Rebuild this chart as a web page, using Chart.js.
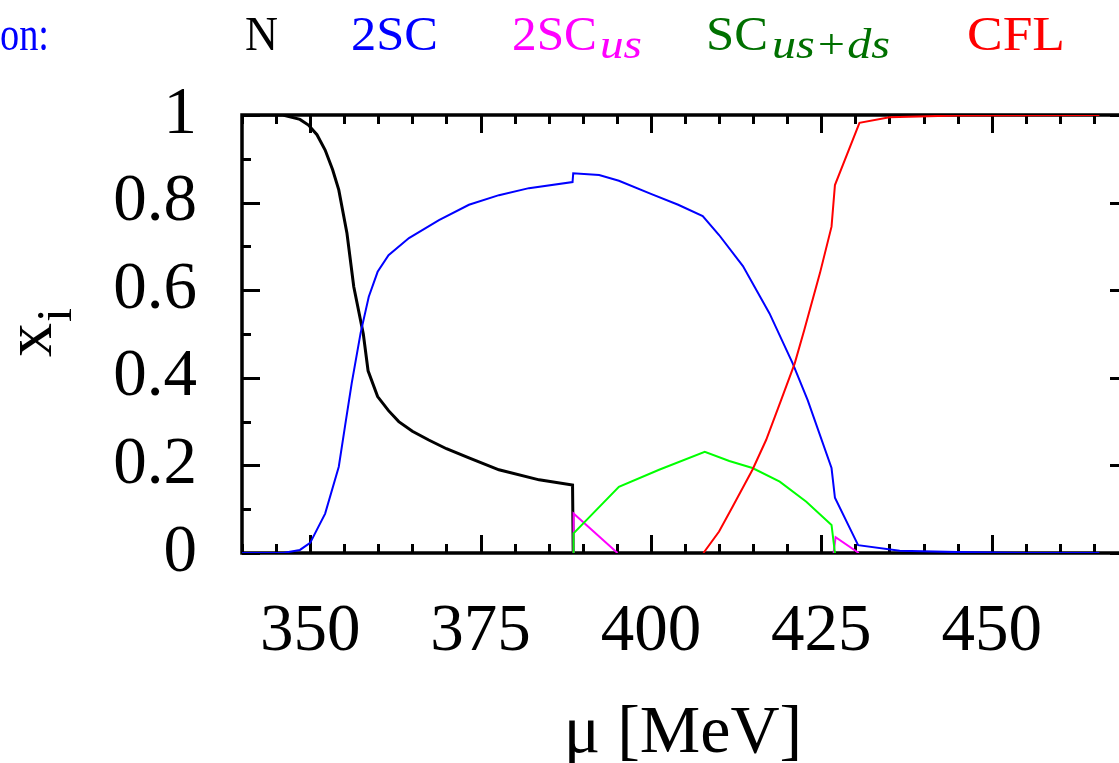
<!DOCTYPE html>
<html>
<head>
<meta charset="utf-8">
<script src="https://cdn.jsdelivr.net/npm/chart.js@4/dist/chart.umd.min.js"></script>
<style>
  html, body { margin: 0; padding: 0; background: #fff; overflow: hidden; }
  #wrap { position: relative; width: 1140px; height: 763px; }
</style>
</head>
<body>
<div id="wrap"><canvas id="fractionChart"></canvas></div>
<script>
// chemical potential mu [MeV] and volume fraction x_i for each phase
var muN   = [340, 346, 348.5, 349.75, 351, 352.2, 353.3, 354.2, 355.4, 356.4, 357.8, 358.5, 359.9, 361.5, 363, 365, 367.4, 370, 373.3, 377.7, 383.6, 388.5, 388.6];
var xN    = [1, 1, 0.99, 0.977, 0.955, 0.92, 0.875, 0.829, 0.73, 0.608, 0.50, 0.416, 0.357, 0.325, 0.30, 0.278, 0.258, 0.238, 0.217, 0.19, 0.167, 0.155, 0];

var mu2SC = [340, 346, 348.5, 350, 352.2, 354.2, 355.1, 356.1, 357.4, 358.6, 359.9, 361.5, 364.5, 368.9, 373.3, 377.7, 382.1, 388.5, 388.6, 392.4, 395.3, 400, 404, 407.6, 410, 413.5, 417.4, 420.8, 423, 426.5, 427, 430.4, 436.5, 445, 455, 465.8];
var x2SC  = [0, 0, 0.007, 0.023, 0.09, 0.197, 0.288, 0.388, 0.502, 0.585, 0.642, 0.68, 0.719, 0.76, 0.795, 0.817, 0.833, 0.847, 0.867, 0.863, 0.85, 0.82, 0.795, 0.769, 0.726, 0.655, 0.547, 0.433, 0.349, 0.194, 0.126, 0.018, 0.005, 0.002, 0, 0];

var mu2SCus = [388.6, 388.65, 395.1, null, 426.8, 427.1, 430.5];
var x2SCus  = [0, 0.09, 0, null, 0, 0.036, 0];

var muSCusds = [388.6, 388.65, 395.3, 401.2, 407.9, 411.5, 414.9, 418.9, 422.8, 426.5, 427];
var xSCusds  = [0, 0.045, 0.151, 0.19, 0.231, 0.21, 0.194, 0.163, 0.117, 0.064, 0];

var muCFL = [407.7, 410, 412, 414.9, 416.9, 419.1, 421.1, 422.5, 424.8, 426.5, 427, 430.6, 435, 445, 465.8];
var xCFL  = [0, 0.049, 0.106, 0.19, 0.258, 0.349, 0.433, 0.509, 0.639, 0.745, 0.84, 0.982, 0.995, 0.999, 1];

var xTicks = [350, 375, 400, 425, 450];
var yTicks = [0, 0.2, 0.4, 0.6, 0.8, 1];
var yTickLabels = ['0', '0.2', '0.4', '0.6', '0.8', '1'];

function pts(mu, v) {
    return mu.map(function (m, i) { return { x: m === null ? (mu[i - 1] + mu[i + 1]) / 2 : m, y: v[i] }; });
}

var serif = "'Liberation Serif', 'DejaVu Serif', serif";

// gnuplot style frame with inward ticks on all four sides
var frameTicks = {
    id: 'frameTicks',
    beforeDatasetsDraw: function (chart) {
        var ctx = chart.ctx, a = chart.chartArea, sx = chart.scales.x, sy = chart.scales.y;
        ctx.save();
        ctx.strokeStyle = '#000';
        ctx.lineWidth = 3;
        ctx.lineCap = 'butt';
        ctx.beginPath();
        for (var v = 340; v <= 470; v += 5) {
            var px = Math.round(sx.getPixelForValue(v)) + 0.5;
            var len = (v % 25 === 0) ? 18 : 9;
            ctx.moveTo(px, a.bottom); ctx.lineTo(px, a.bottom - len);
            ctx.moveTo(px, a.top); ctx.lineTo(px, a.top + len);
        }
        for (var k = 0; k <= 10; k++) {
            var py = Math.round(sy.getPixelForValue(k / 10)) + 0.5;
            var ln = (k % 2 === 0) ? 18 : 9;
            ctx.moveTo(a.left, py); ctx.lineTo(a.left + ln, py);
            ctx.moveTo(a.right, py); ctx.lineTo(a.right - ln, py);
        }
        ctx.stroke();
        ctx.lineWidth = 3.5;
        ctx.strokeRect(a.left, a.top, a.right - a.left, a.bottom - a.top);
        ctx.restore();
    }
};

function fitText(ctx, txt, x, y, w, font, color) {
    ctx.font = font;
    ctx.fillStyle = color;
    var m = ctx.measureText(txt).width;
    ctx.save();
    ctx.translate(x, y);
    ctx.scale(w / m, 1);
    ctx.fillText(txt, 0, 0);
    ctx.restore();
}

var labelsPlugin = {
    id: 'labelsPlugin',
    afterDraw: function (chart) {
        var ctx = chart.ctx;
        ctx.save();
        ctx.textBaseline = 'alphabetic';
        ctx.textAlign = 'left';
        var big = '48px ' + serif, sub = 'italic 42px ' + serif;
        fitText(ctx, 'on:', 0, 50, 49, big, '#0000ff');
        fitText(ctx, 'N', 245, 50, 33, big, '#000000');
        fitText(ctx, '2SC', 351, 50, 87, big, '#0000ff');
        fitText(ctx, '2SC', 512, 50, 85, big, '#ff00ff');
        fitText(ctx, 'us', 600, 58, 42, sub, '#ff00ff');
        fitText(ctx, 'SC', 706, 50, 62, big, '#007000');
        fitText(ctx, 'us+ds', 772, 58, 118, sub, '#007000');
        fitText(ctx, 'CFL', 967, 50, 98, big, '#ff0000');

        // axis titles
        ctx.fillStyle = '#000';
        ctx.font = '68px ' + serif;
        ctx.textAlign = 'center';
        ctx.fillText('\u03bc [MeV]', 683, 752);

        ctx.save();
        ctx.translate(51, 357);
        ctx.rotate(-Math.PI / 2);
        ctx.textAlign = 'left';
        ctx.font = '68px ' + serif;
        ctx.fillText('x', 0, 0);
        var wx = ctx.measureText('x').width;
        ctx.font = '50px ' + serif;
        ctx.fillText('i', wx + 1, 20);
        ctx.restore();
        ctx.restore();
    }
};

function line(data, color, width) {
    return {
        data: data,
        borderColor: color,
        borderWidth: width,
        pointRadius: 0,
        tension: 0,
        fill: false,
        spanGaps: false
    };
}

var ctx = document.getElementById('fractionChart').getContext('2d');
var fractionChart = new Chart(ctx, {
    type: 'line',
    data: {
        datasets: [
            line(pts(muCFL, xCFL), '#ff0000', 2),
            line(pts(muSCusds, xSCusds), '#00ff00', 2),
            line(pts(mu2SCus, x2SCus), '#ff00ff', 2),
            line(pts(mu2SC, x2SC), '#0000ff', 2),
            line(pts(muN, xN), '#000000', 3)
        ]
    },
    options: {
        responsive: true,
        maintainAspectRatio: false,
        animation: false,
        layout: { padding: { left: 0, top: 115, right: 12, bottom: 0 } },
        plugins: { legend: { display: false }, tooltip: { enabled: false } },
        scales: {
            x: {
                type: 'linear',
                min: 340,
                max: 470,
                grid: { display: false },
                border: { display: false },
                afterBuildTicks: function (s) { s.ticks = xTicks.map(function (v) { return { value: v }; }); },
                afterFit: function (s) { s.height = 210; },
                ticks: {
                    padding: 31,
                    maxRotation: 0,
                    color: '#000',
                    font: { family: serif, size: 67 }
                }
            },
            y: {
                type: 'linear',
                min: 0,
                max: 1,
                grid: { display: false },
                border: { display: false },
                afterBuildTicks: function (s) { s.ticks = yTicks.map(function (v) { return { value: v }; }); },
                afterFit: function (s) { s.width = 242; },
                ticks: {
                    padding: 37,
                    color: '#000',
                    font: { family: serif, size: 67 },
                    callback: function (v) { return yTickLabels[yTicks.indexOf(v)]; }
                }
            }
        }
    },
    plugins: [frameTicks, labelsPlugin]
});
</script>
</body>
</html>
